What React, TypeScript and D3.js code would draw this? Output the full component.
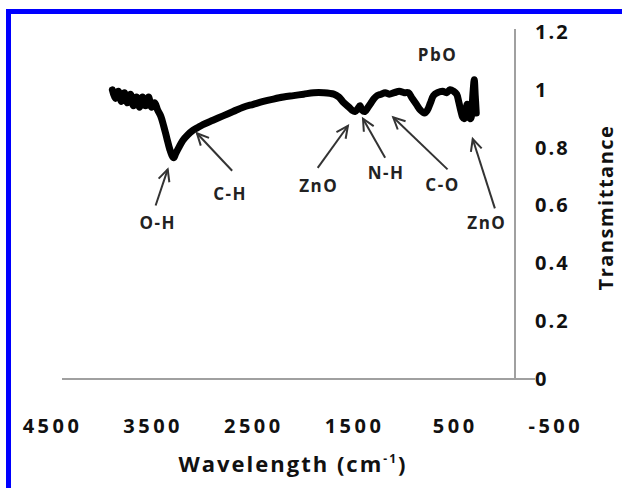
import React, { useEffect, useRef } from 'react'
import * as d3 from 'd3'

// FTIR spectrum
const wavenumbers = [
  4000, 3970, 3940, 3910, 3880, 3850, 3820, 3790, 3760, 3730, 3700, 3670, 3640, 3610, 3580, 3550,
  3520, 3490, 3460, 3430, 3410, 3390, 3370, 3340, 3300, 3250, 3200, 3150, 3100, 3000, 2900, 2800,
  2700, 2600, 2500, 2400, 2300, 2200, 2100, 2000, 1900, 1800, 1750, 1700, 1650, 1620, 1590, 1560,
  1540, 1520, 1490, 1460, 1430, 1400, 1370, 1330, 1290, 1250, 1200, 1150, 1100, 1060, 1020, 980,
  940, 900, 870, 840, 810, 770, 720, 680, 645, 610, 580, 560, 540, 520, 505, 490, 475, 460, 445,
  435, 425, 415, 405, 395, 385,
]
const transmittance = [
  1.0, 0.97, 0.995, 0.96, 0.99, 0.955, 0.985, 0.945, 0.975, 0.94, 0.975, 0.945, 0.975, 0.94, 0.955, 0.93,
  0.91, 0.875, 0.835, 0.795, 0.775, 0.765, 0.78, 0.8, 0.825, 0.845, 0.86, 0.87, 0.88, 0.895, 0.91, 0.925,
  0.94, 0.95, 0.96, 0.968, 0.975, 0.98, 0.985, 0.99, 0.99, 0.985, 0.975, 0.955, 0.94, 0.93, 0.925, 0.935,
  0.945, 0.93, 0.925, 0.94, 0.955, 0.97, 0.98, 0.985, 0.99, 0.985, 0.99, 0.995, 0.99, 0.99, 0.97, 0.95,
  0.93, 0.92, 0.93, 0.955, 0.98, 0.99, 0.995, 0.99, 1.0, 0.995, 0.985, 0.96, 0.93, 0.905, 0.9, 0.92,
  0.95, 0.93, 0.9, 0.905, 0.95, 1.0, 1.035, 0.98, 0.92,
]

const xTicks = [4500, 3500, 2500, 1500, 500, -500]
const yTicks = [0, 0.2, 0.4, 0.6, 0.8, 1, 1.2]

// annotations: text, label anchor (wavenumber, T), arrow tail and tip (wavenumber, T)
const annLabels = ['O-H', 'C-H', 'ZnO', 'N-H', 'C-O', 'ZnO', 'PbO']
const annLabelX = [3550, 2830, 1950, 1280, 720, 280, 770]
const annLabelY = [0.52, 0.62, 0.645, 0.69, 0.65, 0.52, 1.1]
const annTail = [[3570, 0.6], [2810, 0.72], [1960, 0.73], [1290, 0.765], [670, 0.725], [200, 0.59]]
const annTip = [[3450, 0.725], [3160, 0.85], [1660, 0.875], [1510, 0.9], [1210, 0.905], [420, 0.83]]

export default function App() {
  const ref = useRef<SVGSVGElement>(null)

  useEffect(() => {
    const svg = d3.select(ref.current)
    svg.selectAll('*').remove()

    const x = d3.scaleLinear().domain([4500, 0]).range([62, 515])
    const y = d3.scaleLinear().domain([0, 1.2]).range([379, 32])
    const font = '"Open Sans", sans-serif'

    // blue frame
    svg.append('path')
      .attr('d', 'M8.5,488 V11.5 H622')
      .attr('fill', 'none')
      .attr('stroke', '#0000ff')
      .attr('stroke-width', 5)

    // axis lines
    svg.append('line')
      .attr('x1', x(4500)).attr('x2', x(-200))
      .attr('y1', y(0)).attr('y2', y(0))
      .attr('stroke', '#a0a0a0').attr('stroke-width', 2)
    svg.append('line')
      .attr('x1', x(0)).attr('x2', x(0))
      .attr('y1', y(0)).attr('y2', y(1.2) - 3)
      .attr('stroke', '#a0a0a0').attr('stroke-width', 2)

    const xAxis = svg.append('g')
      .attr('transform', `translate(0,${y(0)})`)
      .call(d3.axisBottom(x).tickValues(xTicks).tickSize(0).tickFormat(d => String(d)))
    xAxis.select('.domain').remove()
    xAxis.selectAll('text')
      .attr('x', -10).attr('y', 54).attr('dy', 0)
      .attr('fill', '#111')
      .style('font', `700 20px ${font}`)
      .style('letter-spacing', '3.5px')

    const yAxis = svg.append('g')
      .attr('transform', `translate(${x(0)},0)`)
      .call(d3.axisRight(y).tickValues(yTicks).tickSize(0).tickFormat(d => String(d)))
    yAxis.select('.domain').remove()
    yAxis.selectAll('text')
      .attr('x', 20)
      .attr('fill', '#111')
      .style('font', `700 20px ${font}`)
      .style('letter-spacing', '2px')

    // axis titles
    const xt = svg.append('text')
      .attr('x', 293).attr('y', 472)
      .attr('text-anchor', 'middle')
      .attr('fill', '#111')
      .style('font', `700 22px ${font}`)
      .style('letter-spacing', '2px')
    xt.append('tspan').text('Wavelength (cm')
    xt.append('tspan').attr('dy', -9).style('font-size', '12px').text('-1')
    xt.append('tspan').attr('dy', 9).text(')')

    svg.append('text')
      .attr('transform', `translate(613,${y(0.6) + 2}) rotate(-90)`)
      .attr('text-anchor', 'middle')
      .attr('fill', '#111')
      .style('font', `700 20px ${font}`)
      .style('letter-spacing', '1.5px')
      .text('Transmittance')

    // spectrum
    const pts = wavenumbers.map((w, i) => [w, transmittance[i]] as [number, number])
    svg.append('path')
      .datum(pts)
      .attr('d', d3.line<[number, number]>().x(d => x(d[0])).y(d => y(d[1])).curve(d3.curveCatmullRom.alpha(0.5)))
      .attr('fill', 'none')
      .attr('stroke', '#000')
      .attr('stroke-width', 7)
      .attr('stroke-linejoin', 'round')
      .attr('stroke-linecap', 'round')

    // arrows
    annTail.forEach((t, i) => {
      const x1 = x(t[0]), y1 = y(t[1])
      const x2 = x(annTip[i][0]), y2 = y(annTip[i][1])
      const a = Math.atan2(y2 - y1, x2 - x1)
      const h = 13
      const g = svg.append('g').attr('stroke', '#333').attr('stroke-width', 2).attr('fill', 'none')
      g.append('line').attr('x1', x1).attr('y1', y1).attr('x2', x2).attr('y2', y2)
      g.append('path')
        .attr('d', `M${x2 - h * Math.cos(a - 0.45)},${y2 - h * Math.sin(a - 0.45)} L${x2},${y2} L${x2 - h * Math.cos(a + 0.45)},${y2 - h * Math.sin(a + 0.45)}`)
    })

    svg.append('g').selectAll('text')
      .data(annLabels)
      .join('text')
      .attr('x', (d, i) => x(annLabelX[i]))
      .attr('y', (d, i) => y(annLabelY[i]))
      .attr('text-anchor', 'middle')
      .attr('fill', '#222')
      .style('font', `700 17px ${font}`)
      .style('letter-spacing', '1.5px')
      .text(d => d)
  }, [])

  return (
    <svg ref={ref} width={622} height={488} style={{ position: 'absolute', left: 0, top: 0, background: '#fff' }} />
  )
}
